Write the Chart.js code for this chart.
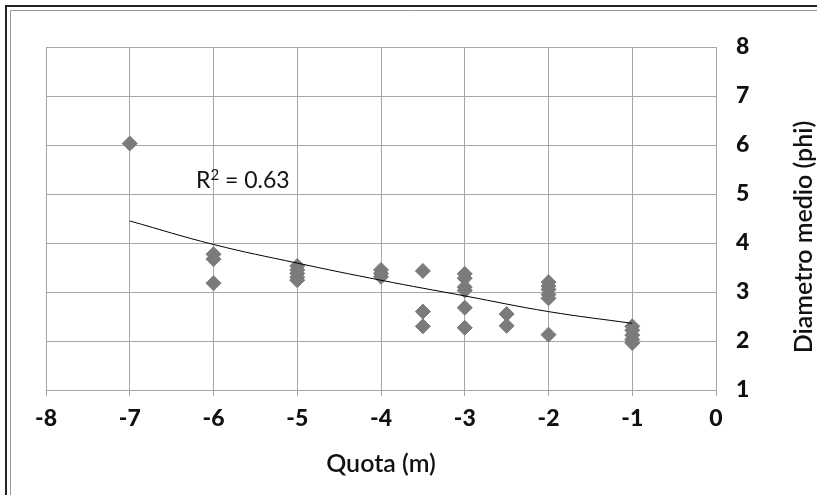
<!DOCTYPE html>
<html>
<head>
<meta charset="utf-8">
<script src="https://cdn.jsdelivr.net/npm/chart.js@4"></script>
<style>
  html, body { margin: 0; padding: 0; background: #fff; }
  #wrap { width: 817px; height: 495px; position: relative; }
</style>
</head>
<body>
<div id="wrap"><canvas id="c" width="817" height="495"></canvas></div>
<script>
// Data
const quotaX = [
  -7,
  -6, -6, -6,
  -5, -5, -5, -5, -5,
  -4, -4, -4,
  -3.5, -3.5, -3.5,
  -3, -3, -3, -3, -3, -3,
  -2.5, -2.5,
  -2, -2, -2, -2, -2, -2,
  -1, -1, -1, -1, -1
];
const diametroY = [
  6.03,
  3.77, 3.67, 3.18,
  3.53, 3.45, 3.38, 3.30, 3.24,
  3.45, 3.38, 3.31,
  3.43, 2.60, 2.30,
  3.37, 3.28, 3.10, 3.03, 2.68, 2.27,
  2.55, 2.31,
  3.20, 3.12, 3.05, 2.95, 2.87, 2.13,
  2.30, 2.22, 2.12, 2.03, 1.96
];
const trendX = [-7, -6, -5, -4, -3, -2, -1];
const trendY = [4.45, 3.97, 3.59, 3.24, 2.92, 2.60, 2.36];
const xTitle = 'Quota (m)';
const yTitle = 'Diametro medio (phi)';
const r2Parts = ['R', '2', ' = 0.63'];

const scatterPts = quotaX.map((x, i) => ({ x: x, y: diametroY[i] }));
const trendPts = trendX.map((x, i) => ({ x: x, y: trendY[i] }));

const GRID = '#a6a6a6';
const FONT = 'Lato, "Open Sans", sans-serif';

const decor = {
  id: 'decor',
  beforeDraw(chart) {
    const ctx = chart.ctx;
    ctx.save();
    ctx.fillStyle = '#fff';
    ctx.fillRect(0, 0, chart.width, chart.height);
    ctx.strokeStyle = '#222';
    ctx.lineWidth = 2;
    ctx.beginPath();
    ctx.moveTo(6, 495); ctx.lineTo(6, 6); ctx.lineTo(817, 6);
    ctx.stroke();
    ctx.strokeStyle = '#9a9a9a';
    ctx.lineWidth = 1;
    ctx.beginPath();
    ctx.moveTo(10.5, 495); ctx.lineTo(10.5, 10.5); ctx.lineTo(817, 10.5);
    ctx.stroke();
    ctx.restore();
  },
  afterDraw(chart) {
    const ctx = chart.ctx;
    const xs = chart.scales.x, ys = chart.scales.y;
    ctx.save();
    ctx.fillStyle = '#111';
    ctx.textBaseline = 'alphabetic';
    ctx.textAlign = 'left';
    // R² label: R, superscript 2, rest
    const big = '23px ' + FONT, small = '15px ' + FONT;
    ctx.font = big;
    const wR = ctx.measureText(r2Parts[0]).width;
    const wRest = ctx.measureText(r2Parts[2]).width;
    ctx.font = small;
    const w2 = ctx.measureText(r2Parts[1]).width;
    const total = wR + w2 + wRest;
    let x0 = xs.getPixelForValue(-5.65) - total / 2;
    const base = ys.getPixelForValue(5.29) + 8;
    ctx.font = big;
    ctx.fillText(r2Parts[0], x0, base);
    ctx.font = small;
    ctx.fillText(r2Parts[1], x0 + wR, base - 8);
    ctx.font = big;
    ctx.fillText(r2Parts[2], x0 + wR + w2, base);
    // rotated y title
    ctx.textAlign = 'center';
    ctx.textBaseline = 'middle';
    ctx.translate(804, 237);
    ctx.rotate(-Math.PI / 2);
    ctx.font = '600 25px ' + FONT;
    ctx.fillText(yTitle, 0, 0);
    ctx.restore();
  }
};

new Chart(document.getElementById('c'), {
  type: 'scatter',
  data: {
    datasets: [
      {
        type: 'line',
        data: trendPts,
        borderColor: '#000',
        borderWidth: 1,
        pointRadius: 0,
        tension: 0.4,
        fill: false
      },
      {
        data: scatterPts,
        pointStyle: 'rectRot',
        pointRadius: 7.5,
        pointHoverRadius: 7.5,
        backgroundColor: '#7b7b7b',
        borderColor: '#7b7b7b',
        borderWidth: 1
      }
    ]
  },
  options: {
    responsive: false,
    animation: false,
    devicePixelRatio: 1,
    layout: { padding: { left: 46, top: 47, right: 0, bottom: 0 } },
    plugins: { legend: { display: false }, tooltip: { enabled: false } },
    scales: {
      x: {
        type: 'linear',
        min: -8, max: 0,
        ticks: { stepSize: 1, color: '#111', font: { family: FONT, size: 23, weight: '900' }, padding: 9 },
        grid: { color: GRID, lineWidth: 1, tickLength: 6, tickColor: GRID },
        border: { display: true, color: GRID },
        title: { display: true, text: xTitle, color: '#111', font: { family: FONT, size: 25, weight: '600' }, padding: { top: 0, bottom: 16 } },
        afterFit(s) { s.height = 105; }
      },
      y: {
        position: 'right',
        min: 1, max: 8,
        ticks: { stepSize: 1, color: '#111', font: { family: FONT, size: 23, weight: '900' }, padding: 20 },
        grid: { color: GRID, lineWidth: 1, drawTicks: false },
        border: { display: true, color: GRID },
        afterFit(s) { s.width = 101; }
      }
    }
  },
  plugins: [decor]
});
</script>
</body>
</html>
